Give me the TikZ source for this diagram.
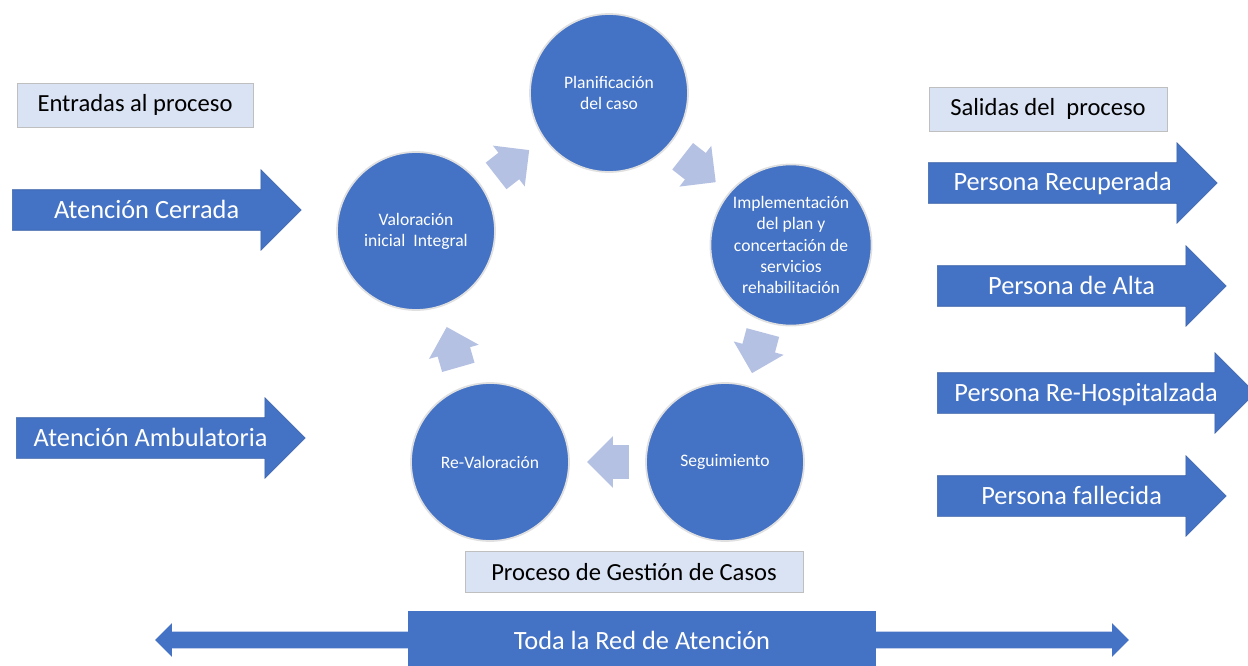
\documentclass[tikz,border=0pt]{standalone}
\usepackage{fontspec}
\setmainfont{Carlito}
\usetikzlibrary{shapes.arrows, calc}
\definecolor{azul}{RGB}{68,114,196}
\definecolor{azulclaro}{RGB}{180,193,226}
\definecolor{caja}{RGB}{218,227,243}

\begin{document}
\begin{tikzpicture}[
    x=0.02cm, y=-0.02cm,
    etapa/.style={circle, fill=azul, draw=black!12, line width=1pt, minimum size=3.16cm,
                  inner sep=2pt, text=white, align=center, font=\fontsize{10}{12}\selectfont},
    flecha/.style={single arrow, fill=azul, draw=azul!85!black, line width=0.3pt, text=white,
                   font=\fontsize{15}{18}\selectfont, inner sep=0pt, text height=0.56cm, text depth=0.24cm,
                   single arrow head extend=0.4cm, minimum height=5.78cm, anchor=tail},
    paso/.style={single arrow, fill=azulclaro, draw=none, inner sep=0pt, inner ysep=0.33cm,
                 minimum height=0.84cm, single arrow head extend=0.18cm, anchor=tip},
    etiqueta/.style={fill=caja, draw=black!25, font=\fontsize{14}{17}\selectfont, inner sep=0pt,
                     minimum height=0.88cm}
  ]
  \useasboundingbox (0,0) rectangle (1248,666);
  \clip (0,0) rectangle (1248,666);

  % Ciclo de gestion
  \node[etapa] (plan)   at (609,93)  {Planificación\\del caso};
  \node[etapa] (val)    at (416,231) {Valoración\\inicial\ \ Integral};
  \node[etapa] (impl)   at (791,245) {Implementación\\del plan y\\concertación de\\servicios\\rehabilitación};
  \node[etapa] (seg)    at (725,462) {Seguimiento};
  \node[etapa] (reval)  at (490,462) {Re-Valoración};

  % Flechas del ciclo
  \node[paso, rotate=38]   (p1) at ($(val)!0.5!(plan)!0.42cm!(plan)$)   {};
  \node[paso, rotate=-38]  (p2) at ($(plan)!0.5!(impl)!0.42cm!(impl)$)  {};
  \node[paso, rotate=-105] (p3) at ($(impl)!0.5!(seg)!0.42cm!(seg)$)    {};
  \node[paso, rotate=180]  (p4) at ($(seg)!0.5!(reval)!0.42cm!(reval)$) {};
  \node[paso, rotate=106]  (p5) at ($(reval)!0.5!(val)!0.42cm!(val)$)   {};

  % Entradas
  \node[etiqueta, minimum width=4.72cm] (entradas) at (135,105) {Entradas al proceso};
  \node[flecha] (cerrada) at (12,210) {Atención Cerrada};
  \node[flecha] (ambul)   at (16,438) {Atención Ambulatoria};

  % Salidas
  \node[etiqueta, minimum width=4.76cm] (salidas) at (1048,109) {Salidas del\ \ proceso};
  \node[flecha] (recup)  at (928,183) {Persona Recuperada};
  \node[flecha] (alta)   at (937,286) {Persona de Alta};
  \node[flecha, minimum height=6.36cm] (rehosp) at (937,393) {Persona Re-Hospitalzada};
  \node[flecha] (fallec) at (937,496) {Persona fallecida};

  % Proceso y red
  \node[etiqueta, minimum width=6.76cm, minimum height=0.82cm] (proceso) at (634,572) {Proceso de Gestión de Casos};
  \node[double arrow, fill=azul, inner sep=0pt, inner ysep=0.16cm, minimum height=19.48cm,
        double arrow head extend=0.17cm] (red) at (642,640) {};
  \node[fill=azul, minimum width=9.38cm, minimum height=1.16cm, text=white,
        font=\fontsize{15}{18}\selectfont] (redtexto) at (642,640) {Toda la Red de Atención};
\end{tikzpicture}
\end{document}
